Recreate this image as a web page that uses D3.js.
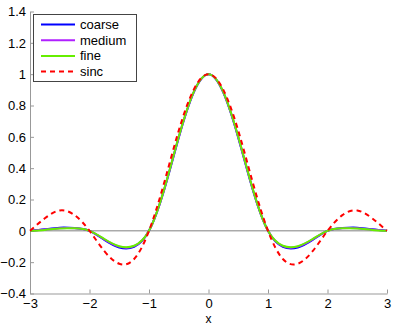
<!DOCTYPE html>
<html>
<head>
<meta charset="utf-8">
<script src="https://cdn.jsdelivr.net/npm/d3@7.9.0/dist/d3.min.js"></script>
<style>
  body { margin: 0; background: #fff; }
  svg { display: block; font-family: "Liberation Sans", Arial, sans-serif; }
</style>
</head>
<body>
<svg width="394" height="327"></svg>
<script>
// sample positions along x
const xs = [-3, -2.75, -2.5, -2.25, -2, -1.75, -1.5, -1.25, -1, -0.75, -0.5, -0.25, 0,
            0.25, 0.5, 0.75, 1, 1.25, 1.5, 1.75, 2, 2.25, 2.5, 2.75, 3];

// values
const coarse = [0, 0.01, 0.02, 0.018, 0, -0.058, -0.106, -0.102, 0, 0.255, 0.595, 0.882, 1,
                0.882, 0.595, 0.255, 0, -0.102, -0.106, -0.058, 0, 0.018, 0.02, 0.01, 0];
const medium = [0, 0.008, 0.017, 0.017, 0, -0.055, -0.101, -0.098, 0, 0.258, 0.598, 0.884, 1,
                0.884, 0.598, 0.258, 0, -0.098, -0.101, -0.055, 0, 0.017, 0.017, 0.008, 0];
const fine   = [0, 0.006, 0.015, 0.016, 0, -0.052, -0.098, -0.095, 0, 0.26, 0.60, 0.885, 1,
                0.885, 0.60, 0.26, 0, -0.095, -0.098, -0.052, 0, 0.016, 0.015, 0.006, 0];
const sinc   = [0, 0.08, 0.13, 0.10, 0, -0.13, -0.21, -0.18, 0, 0.30, 0.64, 0.90, 1,
                0.90, 0.64, 0.30, 0, -0.18, -0.21, -0.13, 0, 0.10, 0.13, 0.08, 0];

const seriesNames = ['coarse', 'medium', 'fine', 'sinc'];
const xTicks = [-3, -2, -1, 0, 1, 2, 3];
const yTicks = [-0.4, -0.2, 0, 0.2, 0.4, 0.6, 0.8, 1, 1.2, 1.4];

const colors = { coarse: '#0000ff', medium: '#b020ff', fine: '#66ee00', sinc: '#ff0000' };
const values = { coarse, medium, fine, sinc };

const svg = d3.select('svg');
const x = d3.scaleLinear().domain([-3, 3]).range([30, 387]);
const y = d3.scaleLinear().domain([-0.4, 1.4]).range([293.5, 11.5]);

const fmt = d => (d < 0 ? '\u2212' : '') + Math.abs(d);

// axes (ticks point inward, no box)
const xAxis = svg.append('g')
  .attr('transform', `translate(0,${y(-0.4)})`)
  .call(d3.axisBottom(x).tickValues(xTicks).tickFormat(fmt)
    .tickSizeInner(-4).tickSizeOuter(0).tickPadding(5));
const yAxis = svg.append('g')
  .attr('transform', `translate(${x(-3)},0)`)
  .call(d3.axisLeft(y).tickValues(yTicks).tickFormat(fmt)
    .tickSizeInner(-4).tickSizeOuter(0).tickPadding(4));

[xAxis, yAxis].forEach(g => {
  g.selectAll('path, line').attr('stroke', '#999');
  g.selectAll('text').attr('fill', '#000').style('font-size', '13px');
  g.attr('font-family', null);
});

svg.append('text')
  .attr('x', x(0)).attr('y', 323)
  .attr('text-anchor', 'middle')
  .style('font-size', '12px')
  .text('x');

// zero line
svg.append('line')
  .attr('x1', x(-3)).attr('x2', x(3))
  .attr('y1', y(0)).attr('y2', y(0))
  .attr('stroke', '#808080').attr('stroke-width', 1);

const line = d3.line()
  .x((d, i) => x(xs[i]))
  .y(d => y(d))
  .curve(d3.curveNatural);

seriesNames.forEach(name => {
  svg.append('path')
    .datum(values[name])
    .attr('d', line)
    .attr('fill', 'none')
    .attr('stroke', colors[name])
    .attr('stroke-width', 2)
    .attr('stroke-dasharray', name === 'sinc' ? '5,4' : null);
});

// legend
const legend = svg.append('g');
legend.append('rect')
  .attr('x', 33.5).attr('y', 14.5).attr('width', 103).attr('height', 67)
  .attr('fill', '#fff').attr('stroke', '#444').attr('stroke-width', 1);

seriesNames.forEach((name, i) => {
  const ly = 24.5 + i * 15.7;
  legend.append('line')
    .attr('x1', 41).attr('x2', 75).attr('y1', ly).attr('y2', ly)
    .attr('stroke', colors[name]).attr('stroke-width', 2)
    .attr('stroke-dasharray', name === 'sinc' ? '5,4' : null);
  legend.append('text')
    .attr('x', 80).attr('y', ly).attr('dy', '0.35em')
    .style('font-size', '13px')
    .text(name);
});
</script>
</body>
</html>
